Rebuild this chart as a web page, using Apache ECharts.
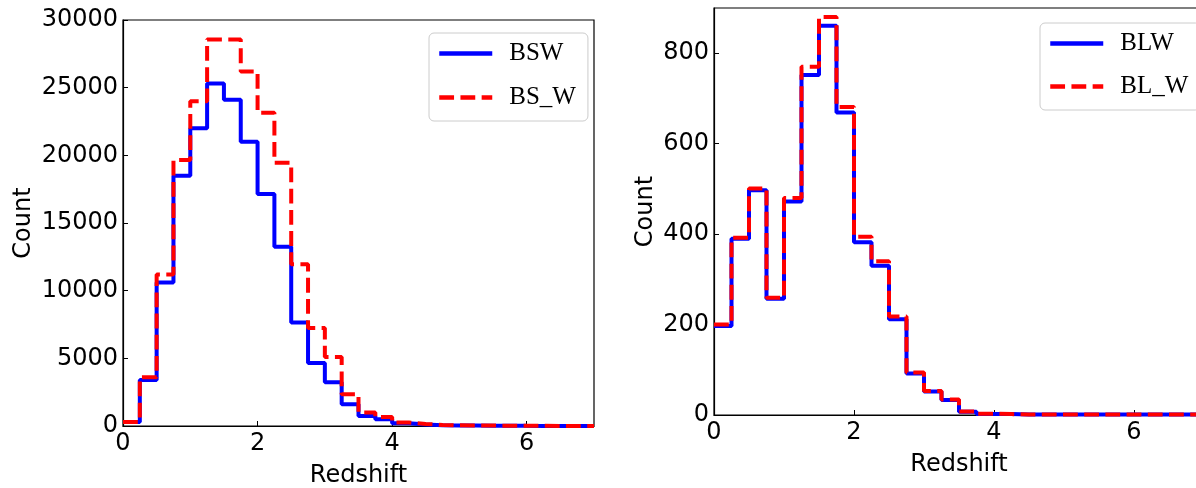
<!DOCTYPE html>
<html>
<head>
<meta charset="utf-8">
<script src="https://cdn.jsdelivr.net/npm/echarts@6/dist/echarts.min.js"></script>
<style>
  html, body { margin: 0; padding: 0; background: #fff; }
  #chart { width: 1196px; height: 488px; }
</style>
</head>
<body>
<div id="chart"></div>
<script>
// Redshift bin edges (width 0.25)
const binEdges = [0, 0.25, 0.5, 0.75, 1, 1.25, 1.5, 1.75, 2, 2.25, 2.5, 2.75, 3, 3.25, 3.5,
  3.75, 4, 4.25, 4.5, 4.75, 5, 5.25, 5.5, 5.75, 6, 6.25, 6.5, 6.75, 7];

// Left panel counts per bin
const bsw  = [300, 3400, 10600, 18500, 22000, 25300, 24100, 21000, 17150, 13250, 7650, 4650, 3230, 1600,
  740, 490, 200, 110, 60, 40, 30, 20, 15, 10, 8, 5, 5, 5];
const bs_w = [300, 3600, 11200, 19650, 24000, 28550, 28550, 26200, 23150, 19450, 11950, 7250, 5100, 2350,
  1000, 670, 250, 150, 80, 50, 40, 30, 20, 15, 10, 8, 5, 5];

// Right panel counts per bin
const blw  = [197, 390, 497, 257, 472, 752, 861, 669, 382, 330, 212, 92, 52, 33,
  7, 2, 2, 1, 1, 1, 1, 1, 1, 1, 1, 1, 1, 1];
const bl_w = [200, 392, 501, 259, 480, 770, 880, 681, 394, 340, 218, 94, 53, 34,
  8, 3, 2, 1, 1, 1, 1, 1, 1, 1, 1, 1, 1, 1];

// Axis ticks
const xTicks = [0, 2, 4, 6];
const yTicksLeft = [0, 5000, 10000, 15000, 20000, 25000, 30000];
const yTicksRight = [0, 200, 400, 600, 800];

// Build step outline points: each bin's left edge with its count, closed at the last edge
function stepPoints(values) {
  const pts = values.map((v, i) => [binEdges[i], v]);
  pts.push([binEdges[values.length], values[values.length - 1]]);
  return pts;
}

const plain = v => String(v);
const tickFont = { fontFamily: 'DejaVu Sans', fontSize: 24, color: '#000' };
const nameFont = { fontFamily: 'DejaVu Sans', fontSize: 24, color: '#000' };
const legendFont = { fontFamily: 'Liberation Serif', fontSize: 25, color: '#000', padding: [0, 0, 0, 12], lineHeight: 22 };

function xAxisCfg(gridIndex, nameGap) {
  return {
    gridIndex, type: 'value', min: 0, max: 7,
    name: 'Redshift', nameLocation: 'middle', nameGap,
    nameTextStyle: nameFont,
    axisLine: { show: true, onZero: false, lineStyle: { color: '#000', width: 1.2 } },
    axisTick: { show: true, inside: true, length: 5, customValues: xTicks, lineStyle: { color: '#000' } },
    axisLabel: { ...tickFont, margin: 6, customValues: xTicks, formatter: plain },
    splitLine: { show: false }
  };
}
function yAxisCfg(gridIndex, max, ticks, nameGap) {
  return {
    gridIndex, type: 'value', min: 0, max,
    name: 'Count', nameLocation: 'middle', nameGap,
    nameTextStyle: nameFont,
    axisLine: { show: true, lineStyle: { color: '#000', width: 1.2 } },
    axisTick: { show: true, inside: true, length: 5, customValues: ticks, lineStyle: { color: '#000' } },
    axisLabel: { ...tickFont, margin: 5, customValues: ticks, formatter: plain },
    splitLine: { show: false }
  };
}
function legendCfg(left, top, names, gap) {
  return {
    left, top, orient: 'vertical',
    data: names,
    itemWidth: 53, itemHeight: 20, itemGap: gap,
    padding: [8, 12, 11, 8],
    borderColor: '#cccccc', borderWidth: 1, borderRadius: 5,
    backgroundColor: 'rgba(255,255,255,0.8)',
    itemStyle: { opacity: 0 },
    lineStyle: { width: 4.5 },
    textStyle: legendFont
  };
}
function stepSeries(name, values, axis, color, dashed) {
  return {
    name, type: 'line', step: 'end', xAxisIndex: axis, yAxisIndex: axis,
    data: stepPoints(values), symbol: 'none', silent: true,
    lineStyle: { color, width: 4, type: dashed ? [14.8, 6.4] : 'solid' },
    itemStyle: { color }
  };
}

const chart = echarts.init(document.getElementById('chart'), null, { renderer: 'canvas' });
chart.setOption({
  animation: false,
  backgroundColor: '#fff',
  grid: [
    { left: 123, top: 20, width: 471, height: 406, outerBoundsMode: 'none', containLabel: false,
      show: true, borderColor: '#000', borderWidth: 1.2, backgroundColor: 'transparent' },
    { left: 714, top: 8, width: 490, height: 407, outerBoundsMode: 'none', containLabel: false,
      show: true, borderColor: '#000', borderWidth: 1.2, backgroundColor: 'transparent' }
  ],
  xAxis: [xAxisCfg(0, 38), xAxisCfg(1, 38)],
  yAxis: [yAxisCfg(0, 30000, yTicksLeft, 87), yAxisCfg(1, 900, yTicksRight, 56)],
  legend: [
    legendCfg(429, 33, ['BSW', 'BS_W'], 19),
    legendCfg(1040, 23, ['BLW', 'BL_W'], 18)
  ],
  series: [
    stepSeries('BSW', bsw, 0, '#0000ff', false),
    stepSeries('BS_W', bs_w, 0, '#ff0000', true),
    stepSeries('BLW', blw, 1, '#0000ff', false),
    stepSeries('BL_W', bl_w, 1, '#ff0000', true)
  ]
});
</script>
</body>
</html>
